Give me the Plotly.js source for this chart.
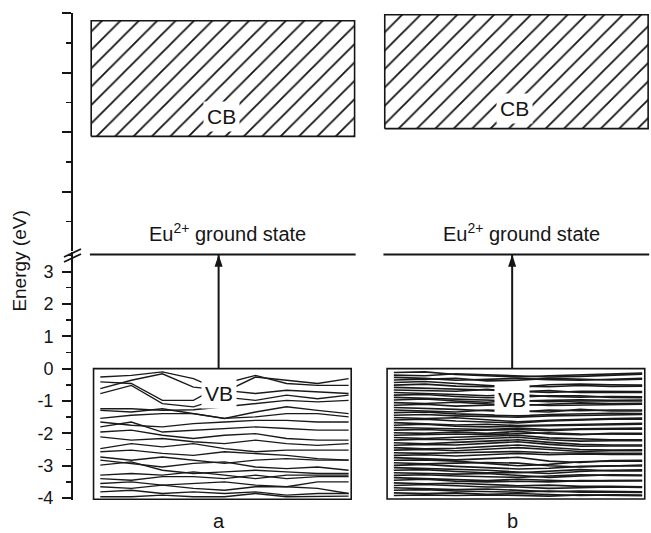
<!DOCTYPE html>
<html>
<head>
<meta charset="utf-8">
<script src="https://cdn.plot.ly/plotly-3.0.1.min.js"></script>
<style>
  html, body { margin: 0; padding: 0; background: #fff; }
  #chart { width: 651px; height: 533px; }
</style>
</head>
<body>
<div id="chart"></div>
<script>
// Band energies (eV) sampled at nine k-points along the path, per panel.
const kPoints = [0, 1, 2, 3, 4, 5, 6, 7, 8];

const bandsA = [
  [-0.26, -0.21, -0.10, -0.31, -0.72, -0.26, -0.36, -0.46, -0.31],
  [-0.41, -0.46, -0.98, -0.98, -0.46, -0.21, -0.46, -0.52, -0.52],
  [-0.62, -0.36, -0.16, -0.57, -0.67, -0.77, -0.67, -0.72, -0.77],
  [-0.77, -0.52, -1.08, -1.18, -0.88, -0.98, -0.82, -0.93, -0.82],
  [-1.24, -1.24, -1.29, -1.27, -1.18, -1.08, -0.98, -1.03, -0.98],
  [-1.29, -1.34, -1.24, -1.39, -1.54, -1.34, -1.18, -1.29, -1.39],
  [-1.54, -1.44, -1.39, -1.39, -1.54, -1.49, -1.39, -1.39, -1.49],
  [-1.65, -1.75, -1.80, -1.70, -1.65, -1.60, -1.60, -1.65, -1.65],
  [-1.80, -1.65, -1.96, -1.90, -1.85, -1.80, -1.85, -1.90, -1.90],
  [-1.96, -1.90, -2.06, -2.16, -2.06, -2.01, -2.16, -2.21, -2.21],
  [-2.11, -2.21, -2.16, -2.26, -2.32, -2.21, -2.32, -2.37, -2.32],
  [-2.47, -2.32, -2.42, -2.32, -2.47, -2.57, -2.52, -2.52, -2.52],
  [-2.57, -2.52, -2.62, -2.68, -2.57, -2.62, -2.68, -2.78, -2.83],
  [-2.73, -2.83, -2.73, -2.83, -2.93, -2.83, -2.78, -2.83, -2.83],
  [-2.83, -2.93, -3.04, -2.93, -2.88, -3.04, -3.09, -3.04, -3.14],
  [-2.98, -2.88, -3.14, -3.24, -3.19, -3.14, -3.19, -3.24, -3.24],
  [-3.29, -3.24, -3.29, -3.19, -3.29, -3.40, -3.29, -3.29, -3.29],
  [-3.40, -3.45, -3.34, -3.34, -3.40, -3.29, -3.40, -3.34, -3.34],
  [-3.55, -3.50, -3.60, -3.55, -3.50, -3.60, -3.65, -3.50, -3.50],
  [-3.65, -3.70, -3.60, -3.70, -3.76, -3.65, -3.65, -3.70, -3.86],
  [-3.81, -3.76, -3.86, -3.81, -3.86, -3.81, -3.91, -3.86, -3.86],
  [-3.96, -3.96, -3.91, -3.96, -3.96, -3.86, -3.96, -3.94, -3.94]
];

const bandsB = [
  [-0.12, -0.10, -0.18, -0.22, -0.26, -0.22, -0.20, -0.18, -0.14],
  [-0.20, -0.22, -0.16, -0.20, -0.24, -0.26, -0.24, -0.20, -0.17],
  [-0.27, -0.30, -0.36, -0.32, -0.30, -0.34, -0.36, -0.33, -0.30],
  [-0.35, -0.32, -0.30, -0.38, -0.36, -0.30, -0.32, -0.35, -0.33],
  [-0.43, -0.40, -0.46, -0.52, -0.58, -0.50, -0.48, -0.50, -0.51],
  [-0.51, -0.48, -0.54, -0.56, -0.54, -0.56, -0.52, -0.55, -0.54],
  [-0.58, -0.60, -0.62, -0.66, -0.70, -0.74, -0.70, -0.70, -0.71],
  [-0.66, -0.68, -0.70, -0.64, -0.72, -0.68, -0.74, -0.74, -0.74],
  [-0.74, -0.76, -0.80, -0.84, -0.80, -0.86, -0.88, -0.86, -0.87],
  [-0.82, -0.80, -0.86, -0.90, -0.88, -0.84, -0.84, -0.89, -0.90],
  [-0.89, -0.92, -0.94, -0.96, -1.00, -0.98, -0.96, -0.98, -0.97],
  [-0.97, -0.94, -1.00, -1.04, -0.98, -1.02, -1.00, -1.00, -1.00],
  [-1.05, -1.08, -1.04, -1.10, -1.14, -1.10, -1.06, -1.08, -1.07],
  [-1.13, -1.10, -1.16, -1.12, -1.10, -1.14, -1.12, -1.10, -1.10],
  [-1.20, -1.22, -1.26, -1.30, -1.34, -1.28, -1.30, -1.28, -1.28],
  [-1.28, -1.30, -1.34, -1.28, -1.30, -1.34, -1.26, -1.31, -1.31],
  [-1.36, -1.34, -1.40, -1.44, -1.46, -1.42, -1.40, -1.38, -1.39],
  [-1.44, -1.42, -1.46, -1.48, -1.50, -1.46, -1.44, -1.42, -1.42],
  [-1.51, -1.54, -1.52, -1.58, -1.64, -1.60, -1.56, -1.54, -1.53],
  [-1.59, -1.56, -1.62, -1.66, -1.68, -1.62, -1.58, -1.56, -1.56],
  [-1.67, -1.70, -1.74, -1.72, -1.76, -1.74, -1.72, -1.70, -1.69],
  [-1.75, -1.72, -1.78, -1.80, -1.78, -1.76, -1.74, -1.73, -1.72],
  [-1.82, -1.84, -1.86, -1.88, -1.84, -1.88, -1.86, -1.84, -1.84],
  [-1.90, -1.88, -1.92, -1.90, -1.88, -1.92, -1.88, -1.87, -1.87],
  [-1.98, -2.00, -1.96, -2.00, -1.94, -2.02, -2.04, -2.00, -2.00],
  [-2.06, -2.04, -2.02, -2.04, -2.00, -1.98, -2.02, -2.03, -2.03],
  [-2.13, -2.16, -2.12, -2.10, -2.06, -2.14, -2.18, -2.20, -2.20],
  [-2.21, -2.18, -2.20, -2.16, -2.12, -2.20, -2.24, -2.23, -2.23],
  [-2.29, -2.32, -2.28, -2.24, -2.20, -2.28, -2.34, -2.36, -2.36],
  [-2.37, -2.34, -2.36, -2.30, -2.26, -2.34, -2.40, -2.39, -2.39],
  [-2.44, -2.48, -2.46, -2.40, -2.36, -2.44, -2.50, -2.52, -2.51],
  [-2.52, -2.50, -2.54, -2.48, -2.44, -2.50, -2.56, -2.54, -2.54],
  [-2.60, -2.62, -2.60, -2.58, -2.56, -2.60, -2.62, -2.62, -2.62],
  [-2.68, -2.66, -2.70, -2.66, -2.62, -2.66, -2.64, -2.65, -2.65],
  [-2.75, -2.78, -2.82, -2.78, -2.74, -2.86, -2.90, -2.84, -2.83],
  [-2.83, -2.82, -2.86, -2.94, -3.00, -2.96, -2.88, -2.86, -2.86],
  [-2.91, -2.94, -2.92, -2.90, -2.92, -3.00, -3.04, -3.00, -2.98],
  [-2.99, -2.96, -3.02, -3.06, -3.10, -3.08, -3.02, -3.00, -3.01],
  [-3.06, -3.08, -3.10, -3.14, -3.20, -3.24, -3.18, -3.14, -3.13],
  [-3.14, -3.12, -3.18, -3.22, -3.22, -3.16, -3.12, -3.16, -3.16],
  [-3.22, -3.24, -3.26, -3.24, -3.30, -3.36, -3.32, -3.28, -3.29],
  [-3.30, -3.28, -3.32, -3.34, -3.36, -3.32, -3.28, -3.30, -3.31],
  [-3.37, -3.40, -3.42, -3.46, -3.42, -3.44, -3.48, -3.46, -3.45],
  [-3.45, -3.42, -3.48, -3.50, -3.48, -3.50, -3.46, -3.47, -3.47],
  [-3.53, -3.56, -3.54, -3.58, -3.62, -3.60, -3.64, -3.64, -3.65],
  [-3.61, -3.58, -3.62, -3.66, -3.66, -3.70, -3.68, -3.66, -3.67],
  [-3.68, -3.70, -3.74, -3.72, -3.76, -3.80, -3.78, -3.80, -3.81],
  [-3.76, -3.74, -3.78, -3.80, -3.82, -3.78, -3.82, -3.82, -3.83],
  [-3.84, -3.86, -3.84, -3.88, -3.86, -3.90, -3.92, -3.90, -3.91],
  [-3.92, -3.90, -3.92, -3.90, -3.92, -3.94, -3.90, -3.92, -3.93]
];

// Level scheme values per panel (a, b)
const panelLabels = ['a', 'b'];
const vbTop = [0, 0];             // valence band top (eV)
const vbBottom = [-4.04, -4.03];  // valence band bottom (eV)
const groundState = [3.53, 3.53]; // Eu2+ ground state (eV, lower scale)
const cbBottom = [1.93, 2.06];    // conduction band edges (upper scale)
const cbTop = [3.87, 3.97];
const cbLabelLevel = [2.26, 2.39];
const vbLabelLevel = [-0.76, -0.94];

// Axis ticks
const lowerTicks = [-4, -3, -2, -1, 0, 1, 2, 3];
const lowerTickText = ['-4', '-3', '-2', '-1', '0', '1', '2', '3'];
const lowerMinor = [-3.5, -2.5, -1.5, -0.5, 0.5, 1.5, 2.5, 3.5];
const upperTicks = [1, 2, 3, 4];
const upperMinor = [0.5, 1.5, 2.5, 3.5];

const FONT = 'Liberation Sans, Arial, Helvetica, sans-serif';
const INK = '#151515';

// horizontal placement of each panel (box spans one unit)
const panelX0 = [0, 1.129];
const panelBands = [bandsA, bandsB];
const bandWidth = [1.35, 1.6];

const traces = [];
const shapes = [];
const annotations = [];

panelLabels.forEach((lab, p) => {
  const x0 = panelX0[p];
  const kx = kPoints.map(k => x0 + 0.03 + k * (0.955 / (kPoints.length - 1)));

  // valence band dispersion curves
  panelBands[p].forEach(band => {
    traces.push({
      type: 'scatter', mode: 'lines', x: kx, y: band,
      xaxis: 'x', yaxis: 'y',
      line: { color: '#1a1a1a', width: bandWidth[p] },
      hoverinfo: 'skip', showlegend: false
    });
  });

  // hatched conduction band
  const cx0 = x0 - 0.005, cx1 = x0 + 1.008;
  traces.push({
    type: 'scatter', mode: 'lines',
    x: [cx0, cx1, cx1, cx0, cx0],
    y: [cbBottom[p], cbBottom[p], cbTop[p], cbTop[p], cbBottom[p]],
    xaxis: 'x', yaxis: 'y2',
    fill: 'toself', fillcolor: 'white',
    fillpattern: { shape: '/', size: 13, solidity: 0.14, fgcolor: INK, bgcolor: 'white' },
    line: { color: INK, width: 1.6 },
    hoverinfo: 'skip', showlegend: false
  });

  // valence band frame
  shapes.push({
    type: 'rect', xref: 'x', yref: 'y',
    x0: x0 + 0.004, x1: x0 + 0.995, y0: vbBottom[p], y1: vbTop[p],
    line: { color: INK, width: 1.6 }, fillcolor: 'rgba(0,0,0,0)'
  });

  // ground state level
  shapes.push({
    type: 'line', xref: 'x', yref: 'y',
    x0: x0 - 0.01, x1: x0 + 1.012, y0: groundState[p], y1: groundState[p],
    line: { color: INK, width: 2 }
  });

  const ax = x0 + 0.485;
  // excitation arrow from VB top up to the ground state
  traces.push({
    type: 'scatter', mode: 'lines',
    x: [ax, ax], y: [vbTop[p], groundState[p]],
    xaxis: 'x', yaxis: 'y',
    line: { color: INK, width: 2 },
    hoverinfo: 'skip', showlegend: false
  });
  traces.push({
    type: 'scatter', mode: 'markers',
    x: [ax], y: [groundState[p]],
    xaxis: 'x', yaxis: 'y',
    marker: { symbol: 'arrow', angle: 0, size: 13, color: INK, line: { width: 0 } },
    cliponaxis: false, hoverinfo: 'skip', showlegend: false
  });

  annotations.push({
    xref: 'x', yref: 'y', x: x0 + 0.52, y: groundState[p],
    yanchor: 'bottom', yshift: 7, showarrow: false,
    text: 'Eu<sup>2+</sup> ground state',
    font: { family: FONT, size: 20, color: INK }
  });

  annotations.push({
    xref: 'x', yref: 'y2', x: x0 + 0.495, y: cbLabelLevel[p],
    showarrow: false, text: 'CB', bgcolor: 'white', borderpad: 3,
    font: { family: FONT, size: 21, color: INK }
  });

  annotations.push({
    xref: 'x', yref: 'y', x: ax, y: vbLabelLevel[p],
    showarrow: false, text: 'VB', bgcolor: 'white', borderpad: 3,
    font: { family: FONT, size: 21, color: INK }
  });

  annotations.push({
    xref: 'x', yref: 'paper', x: ax, y: -0.043,
    xanchor: 'center', yanchor: 'middle',
    showarrow: false, text: lab,
    font: { family: FONT, size: 20, color: INK }
  });
});

// axis title spanning both axis segments
annotations.push({
  xref: 'paper', yref: 'paper', x: -0.093, y: 0.49,
  xanchor: 'center', yanchor: 'middle',
  showarrow: false, textangle: -90, text: 'Energy (eV)',
  font: { family: FONT, size: 19, color: INK }
});

// axis break marks
[[257, 249], [262, 254]].forEach(([ya, yb]) => {
  shapes.push({
    type: 'line', xref: 'paper', yref: 'paper',
    x0: (64 - 73) / 578, x1: (81 - 73) / 578,
    y0: (500 - ya) / 487, y1: (500 - yb) / 487,
    line: { color: INK, width: 1.8 }
  });
});

const axisCommon = {
  showgrid: false, zeroline: false, showline: true,
  linecolor: INK, linewidth: 2,
  ticks: 'outside', ticklen: 9, tickwidth: 2, tickcolor: INK,
  fixedrange: true
};

const layout = {
  width: 651, height: 533,
  margin: { l: 73, r: 0, t: 13, b: 33 },
  paper_bgcolor: 'white', plot_bgcolor: 'white',
  showlegend: false,
  font: { family: FONT, color: INK },
  xaxis: { visible: false, range: [-0.075, 2.148], fixedrange: true },
  yaxis: Object.assign({}, axisCommon, {
    domain: [0, 0.509], range: [-4.06, 3.6], anchor: 'x',
    tickmode: 'array', tickvals: lowerTicks, ticktext: lowerTickText,
    tickfont: { family: FONT, size: 18, color: INK },
    ticklabelstandoff: 5,
    minor: { tickmode: 'array', tickvals: lowerMinor, ticks: 'outside',
             ticklen: 5, tickwidth: 1.5, tickcolor: INK, showgrid: false }
  }),
  yaxis2: Object.assign({}, axisCommon, {
    domain: [0.5103, 1], range: [0, 4], anchor: 'x',
    tickmode: 'array', tickvals: upperTicks, showticklabels: false,
    minor: { tickmode: 'array', tickvals: upperMinor, ticks: 'outside',
             ticklen: 5, tickwidth: 1.5, tickcolor: INK, showgrid: false }
  }),
  shapes: shapes,
  annotations: annotations
};

Plotly.newPlot('chart', traces, layout, { staticPlot: true, displayModeBar: false });
</script>
</body>
</html>
